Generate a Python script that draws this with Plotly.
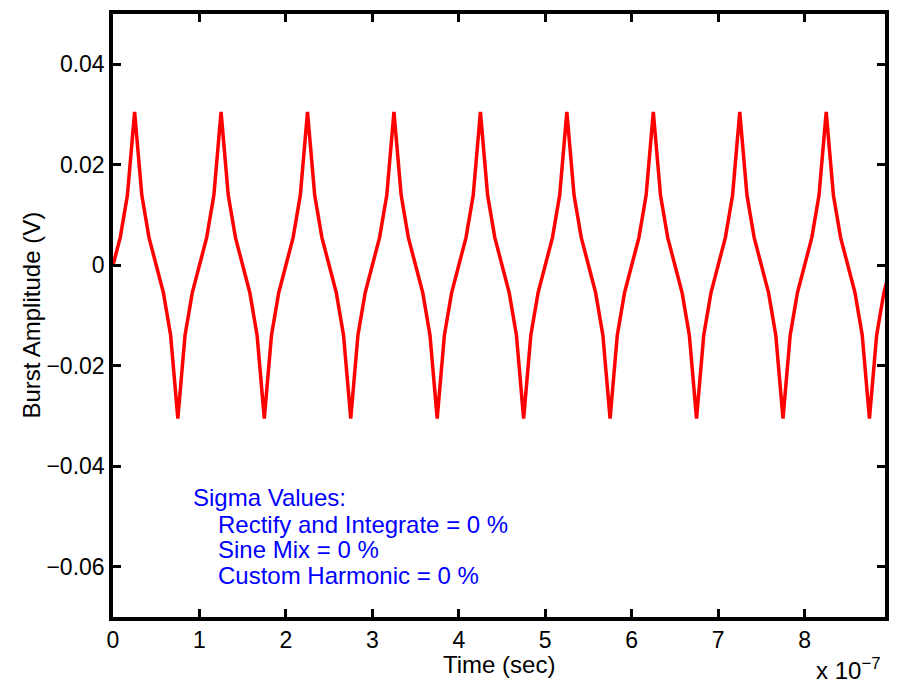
import plotly.graph_objects as go

# Burst waveform: 12 samples per 100 ns period, sampled every 1/12 of 1e-7 s
SAMPLES_PER_PERIOD = 12
PERIOD = 1e-7

burst_amplitude = [
    0.0, 0.0055, 0.0139, 0.0305, 0.0139, 0.0055, 0.0, -0.0055, -0.0139, -0.0305, -0.0139, -0.0055,
    0.0, 0.0055, 0.0139, 0.0305, 0.0139, 0.0055, 0.0, -0.0055, -0.0139, -0.0305, -0.0139, -0.0055,
    0.0, 0.0055, 0.0139, 0.0305, 0.0139, 0.0055, 0.0, -0.0055, -0.0139, -0.0305, -0.0139, -0.0055,
    0.0, 0.0055, 0.0139, 0.0305, 0.0139, 0.0055, 0.0, -0.0055, -0.0139, -0.0305, -0.0139, -0.0055,
    0.0, 0.0055, 0.0139, 0.0305, 0.0139, 0.0055, 0.0, -0.0055, -0.0139, -0.0305, -0.0139, -0.0055,
    0.0, 0.0055, 0.0139, 0.0305, 0.0139, 0.0055, 0.0, -0.0055, -0.0139, -0.0305, -0.0139, -0.0055,
    0.0, 0.0055, 0.0139, 0.0305, 0.0139, 0.0055, 0.0, -0.0055, -0.0139, -0.0305, -0.0139, -0.0055,
    0.0, 0.0055, 0.0139, 0.0305, 0.0139, 0.0055, 0.0, -0.0055, -0.0139, -0.0305, -0.0139, -0.0055,
    0.0, 0.0055, 0.0139, 0.0305, 0.0139, 0.0055, 0.0, -0.0055, -0.0139, -0.0305, -0.0139, -0.0055,
    0.0,
]
time_sec = [k * PERIOD / SAMPLES_PER_PERIOD for k in range(len(burst_amplitude))]

x_tick_values = [0, 1e-7, 2e-7, 3e-7, 4e-7, 5e-7, 6e-7, 7e-7, 8e-7]
x_tick_labels = ["0", "1", "2", "3", "4", "5", "6", "7", "8"]
y_tick_values = [0.04, 0.02, 0, -0.02, -0.04, -0.06]
y_tick_labels = ["0.04", "0.02", "0", "\u22120.02", "\u22120.04", "\u22120.06"]

x_title = "Time (sec)"
y_title = "Burst Amplitude (V)"
x_multiplier = "x 10<sup>\u22127</sup>"

sigma_lines = [
    "Sigma Values:",
    "Rectify and Integrate = 0 %",
    "Sine Mix = 0 %",
    "Custom Harmonic = 0 %",
]

FONT = "Liberation Sans, Arial, Helvetica, sans-serif"
W, H = 899, 687
L, R, T, B = 113, 886, 10, 617


def px_x(px):
    """Horizontal pixel position -> paper fraction of the plot area."""
    return (px - L) / (R - L)


def px_y(py):
    """Vertical pixel position (from top) -> paper fraction of the plot area."""
    return (B - py) / (B - T)


fig = go.Figure()
fig.add_trace(go.Scatter(
    x=time_sec, y=burst_amplitude, mode="lines",
    line=dict(color="#ff0000", width=3.5),
    showlegend=False, hoverinfo="skip",
))

axis_common = dict(
    showline=True, linecolor="black", linewidth=3.5, mirror="allticks",
    ticks="inside", ticklen=8, tickwidth=3, tickcolor="black",
    showgrid=False, zeroline=False,
    tickfont=dict(family=FONT, size=23, color="black"),
    ticklabelstandoff=0,
)

fig.update_xaxes(
    range=[0, 8.93e-7], tickmode="array",
    tickvals=x_tick_values, ticktext=x_tick_labels,
    **axis_common,
)
fig.update_yaxes(
    range=[-0.07, 0.05], tickmode="array",
    tickvals=y_tick_values, ticktext=y_tick_labels,
    **axis_common,
)

title_font = dict(family=FONT, size=24, color="black")

# Axis titles
fig.add_annotation(
    x=px_x((L + R) / 2), y=px_y(665), xref="paper", yref="paper",
    xanchor="center", yanchor="middle", text=x_title, showarrow=False,
    font=title_font,
)
fig.add_annotation(
    x=px_x(31), y=px_y((T + B) / 2), xref="paper", yref="paper",
    xanchor="center", yanchor="middle", textangle=-90, text=y_title,
    showarrow=False, font=title_font,
)

# Axis multiplier under the right end of the x axis
fig.add_annotation(
    x=px_x(884), y=px_y(686), xref="paper", yref="paper",
    xanchor="right", yanchor="bottom",
    text=x_multiplier, showarrow=False, font=title_font,
)

# Sigma settings text block
text_x = [191, 216, 216, 216]
text_y = [497, 524, 549, 575]
for line, px, py in zip(sigma_lines, text_x, text_y):
    fig.add_annotation(
        x=px_x(px), y=px_y(py),
        xref="paper", yref="paper", xanchor="left", yanchor="middle",
        text=line, showarrow=False,
        font=dict(family=FONT, size=24, color="#0000ff"),
    )

fig.update_layout(
    width=W, height=H,
    margin=dict(l=L, r=W - R, t=T, b=H - B, pad=0),
    paper_bgcolor="white", plot_bgcolor="white",
)

fig.write_html("out.html")
